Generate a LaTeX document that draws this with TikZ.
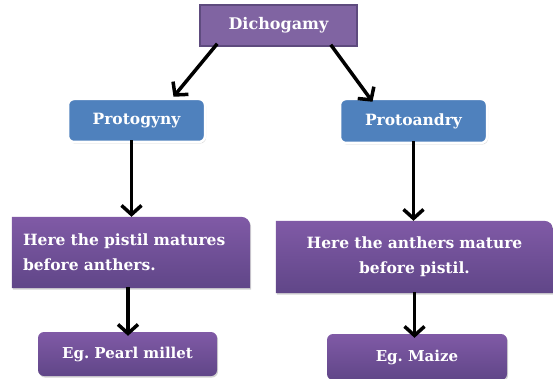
\documentclass[tikz,border=0pt]{standalone}
\usepackage{fontspec}
\setmainfont{DejaVu Serif}
\usepackage{tikz}
\usetikzlibrary{arrows.meta, positioning, calc, shadows, backgrounds}
\frenchspacing

\definecolor{headpurple}{RGB}{128,100,162}
\definecolor{headedge}{RGB}{94,75,126}
\definecolor{topblue}{RGB}{79,129,189}
\definecolor{shadetop}{RGB}{128,90,166}
\definecolor{shadebot}{RGB}{96,70,136}

\begin{document}
\begin{tikzpicture}[x=1pt, y=-1pt,
  header/.style={rectangle, draw=headedge, line width=1.5pt, fill=headpurple,
    minimum width=157pt, minimum height=41pt, font=\bfseries\fontsize{16}{19}\selectfont, text=white},
  kind/.style={rectangle, draw=white, line width=2.5pt, fill=topblue, rounded corners=6pt,
    drop shadow={opacity=0.35, shadow xshift=1pt, shadow yshift=-1.5pt},
    font=\bfseries\fontsize{15.5}{18}\selectfont, text=white},
  note/.style={rectangle, inner xsep=11pt, font=\bfseries\fontsize{15.5}{25}\selectfont, text=white},
  notebg/.style={top color=shadetop, bottom color=shadebot,
    drop shadow={opacity=0.35, shadow xshift=1pt, shadow yshift=-1.5pt}},
  example/.style={rectangle, top color=shadetop, bottom color=shadebot, rounded corners=6pt,
    drop shadow={opacity=0.35, shadow xshift=1pt, shadow yshift=-1.5pt},
    font=\bfseries\fontsize{15}{18}\selectfont, text=white},
  arr/.style={-{Straight Barb[length=9pt, width=20pt]}, line width=3.5pt, black},
]
\useasboundingbox (0,0) rectangle (553,379);

% Top
\node[header] (dich) at (278.5,25.5) {Dichogamy};

% Two kinds
\node[kind, minimum width=137pt, minimum height=43pt] (pg) at (136.5,120.5) {Protogyny};
\node[kind, minimum width=147pt, minimum height=44pt] (pa) at (413.5,121) {Protoandry};

% Notes
\node[note, text width=216pt, minimum height=71pt, align=left] (n1) at (131,252.5)
  {Here the pistil matures\\before anthers.};
\node[note, text width=255pt, minimum height=72pt, align=center] (n2) at (414.5,257)
  {Here the anthers mature\\before pistil.};
\begin{scope}[on background layer]
  \shade[notebg] (n1.south west) -- (n1.north west) [rounded corners=9pt]
    -- (n1.north east) [sharp corners] -- (n1.south east) -- cycle;
  \shade[notebg] (n2.south west) -- (n2.north west) [rounded corners=9pt]
    -- (n2.north east) [sharp corners] -- (n2.south east) -- cycle;
\end{scope}

% Examples
\node[example, minimum width=179pt, minimum height=44pt] (ex1) at (127.5,354) {Eg. Pearl millet};
\node[example, minimum width=180pt, minimum height=46pt] (ex2) at (417,357) {Eg. Maize};

% Arrows
\draw[arr] ([xshift=18pt,yshift=3pt]dich.south west) -- ([xshift=37pt,yshift=1pt]pg.north);
\draw[arr] ([xshift=-27pt,yshift=2pt]dich.south east) -- ([xshift=-41pt,yshift=-4pt]pa.north);
\draw[arr] ([xshift=-5pt,yshift=3pt]pg.south) -- ([xshift=-5pt]pg.south |- n1.north);
\draw[arr] ([yshift=3pt]pa.south) -- (pa.south |- n2.north);
\draw[arr] ([xshift=-3pt,yshift=1pt]n1.south) -- ([xshift=-3pt,yshift=-4pt]n1.south |- ex1.north);
\draw[arr] ([yshift=1pt]n2.south) -- ([yshift=-4pt]n2.south |- ex2.north);

\end{tikzpicture}
\end{document}
